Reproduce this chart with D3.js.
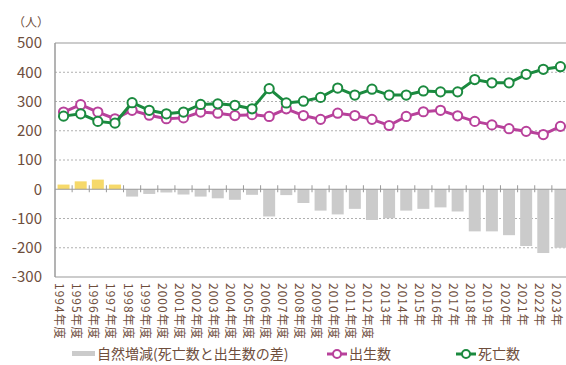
<!DOCTYPE html>
<html>
<head>
<meta charset="utf-8">
<script src="https://cdn.jsdelivr.net/npm/d3@7"></script>
<style>
  html, body { margin: 0; padding: 0; background: #fff; }
  svg { display: block; }
</style>
</head>
<body>
<div id="chart"></div>
<script>
// Categories (fiscal years, then calendar years from 2013)
const years = [
  '1994年度', '1995年度', '1996年度', '1997年度', '1998年度', '1999年度',
  '2000年度', '2001年度', '2002年度', '2003年度', '2004年度', '2005年度',
  '2006年度', '2007年度', '2008年度', '2009年度', '2010年度', '2011年度',
  '2012年度', '2013年', '2014年', '2015年', '2016年', '2017年',
  '2018年', '2019年', '2020年', '2021年', '2022年', '2023年'
];

// 出生数
const births = [
  264, 289, 264, 241, 270, 253, 241, 244, 264, 260, 252, 255,
  249, 275, 252, 239, 260, 252, 239, 218, 249, 265, 270, 251,
  232, 220, 207, 198, 187, 215
];

// 死亡数
const deaths = [
  250, 258, 232, 226, 296, 270, 258, 264, 290, 292, 287, 275,
  344, 295, 301, 314, 346, 322, 342, 322, 322, 336, 333, 333,
  375, 364, 364, 393, 410, 419
];

// 自然増減（死亡数と出生数の差）
const naturalChange = [
  16, 27, 33, 16, -25, -16, -11, -18, -25, -31, -36, -19,
  -93, -20, -47, -73, -86, -67, -105, -99, -73, -67, -62, -76,
  -144, -144, -157, -194, -218, -200
];

const yTicks = [500, 400, 300, 200, 100, 0, -100, -200, -300];

const width = 566;
const height = 365;
const margin = { top: 43, right: -3, bottom: 88, left: 55 };
const innerW = width - margin.left - margin.right;
const innerH = height - margin.top - margin.bottom;

const textColor = '#6e4e3c';
const axisColor = '#9a9a9a';
const pink = '#b8419b';
const green = '#1b8a3f';
const font = '"Noto Sans CJK JP", "Noto Sans", sans-serif';

const svg = d3.select('#chart')
  .append('svg')
  .attr('width', width)
  .attr('height', height);

const g = svg.append('g')
  .attr('transform', `translate(${margin.left},${margin.top})`);

const x = d3.scaleBand().domain(years).range([0, innerW]).paddingInner(0.3).paddingOuter(0.15);
const xc = d => x(d) + x.bandwidth() / 2;
const y = d3.scaleLinear().domain([-300, 500]).range([innerH, 0]);

// Grid lines (dashed)
g.append('g')
  .selectAll('line')
  .data(yTicks.filter(v => v !== 500 && v !== 0 && v !== -300))
  .join('line')
  .attr('x1', 0).attr('x2', innerW)
  .attr('y1', d => y(d)).attr('y2', d => y(d))
  .attr('stroke', '#b0b0b0')
  .attr('stroke-width', 1)
  .attr('stroke-dasharray', '2,2');

// Frame: top and bottom
[500, -300].forEach(v => {
  g.append('line')
    .attr('x1', 0).attr('x2', innerW)
    .attr('y1', y(v)).attr('y2', y(v))
    .attr('stroke', axisColor)
    .attr('stroke-width', 1.2);
});

// Bars
g.append('g')
  .selectAll('rect')
  .data(naturalChange)
  .join('rect')
  .attr('x', (d, i) => x(years[i]))
  .attr('width', x.bandwidth())
  .attr('y', d => y(Math.max(0, d)))
  .attr('height', d => Math.abs(y(d) - y(0)))
  .attr('fill', d => d >= 0 ? '#f6d96a' : '#cbcbcb');

// Zero line + category ticks
g.append('line')
  .attr('x1', 0).attr('x2', innerW)
  .attr('y1', y(0)).attr('y2', y(0))
  .attr('stroke', axisColor)
  .attr('stroke-width', 1.2);

const step = x.step();
g.append('g')
  .selectAll('line')
  .data(years.slice(1))
  .join('line')
  .attr('x1', d => x(d) - step * 0.15)
  .attr('x2', d => x(d) - step * 0.15)
  .attr('y1', y(0) - 4).attr('y2', y(0) + 3)
  .attr('stroke', axisColor)
  .attr('stroke-width', 1);

// Left axis
g.append('line')
  .attr('x1', 0).attr('x2', 0)
  .attr('y1', y(500)).attr('y2', y(-300))
  .attr('stroke', axisColor)
  .attr('stroke-width', 1.5);

// Lines
const line = d3.line().x((d, i) => xc(years[i])).y(d => y(d));

function drawSeries(data, color) {
  g.append('path')
    .datum(data)
    .attr('d', line)
    .attr('fill', 'none')
    .attr('stroke', color)
    .attr('stroke-width', 3);
  g.append('g')
    .selectAll('circle')
    .data(data)
    .join('circle')
    .attr('cx', (d, i) => xc(years[i]))
    .attr('cy', d => y(d))
    .attr('r', 4.6)
    .attr('fill', '#fff')
    .attr('stroke', color)
    .attr('stroke-width', 2);
}
drawSeries(births, pink);
drawSeries(deaths, green);

// Y tick labels
g.append('g')
  .selectAll('text')
  .data(yTicks)
  .join('text')
  .attr('x', -13)
  .attr('y', d => y(d))
  .attr('dy', '0.35em')
  .attr('text-anchor', 'end')
  .attr('fill', textColor)
  .attr('font-size', '15px')
  .attr('font-family', font)
  .text(d => d);

svg.append('text')
  .attr('x', 31)
  .attr('y', 27)
  .attr('text-anchor', 'middle')
  .attr('fill', textColor)
  .attr('font-size', '12px')
  .attr('font-family', font)
  .text('（人）');

// X labels, rotated
g.append('g')
  .selectAll('text')
  .data(years)
  .join('text')
  .attr('transform', d => `translate(${xc(d) - 8.5},${y(-300) + 6}) rotate(90)`)
  .attr('text-anchor', 'start')
  .attr('fill', textColor)
  .attr('font-size', '12px')
  .attr('letter-spacing', '1px')
  .attr('font-family', font)
  .text(d => d);

// Legend
const ly = 354;
const legend = svg.append('g').attr('font-family', font).attr('font-size', '14px');

legend.append('rect')
  .attr('x', 72).attr('y', ly - 3).attr('width', 23).attr('height', 5)
  .attr('fill', '#cbcbcb');
legend.append('text')
  .attr('x', 97).attr('y', ly).attr('dy', '0.35em')
  .attr('fill', textColor)
  .text('自然増減(死亡数と出生数の差)');

[[pink, 327, '出生数'], [green, 456, '死亡数']].forEach(([c, lx, label]) => {
  legend.append('line')
    .attr('x1', lx).attr('x2', lx + 20)
    .attr('y1', ly).attr('y2', ly)
    .attr('stroke', c).attr('stroke-width', 3);
  legend.append('circle')
    .attr('cx', lx + 10).attr('cy', ly).attr('r', 4)
    .attr('fill', '#fff').attr('stroke', c).attr('stroke-width', 2);
  legend.append('text')
    .attr('x', lx + 22).attr('y', ly).attr('dy', '0.35em')
    .attr('fill', textColor)
    .text(label);
});
</script>
</body>
</html>
